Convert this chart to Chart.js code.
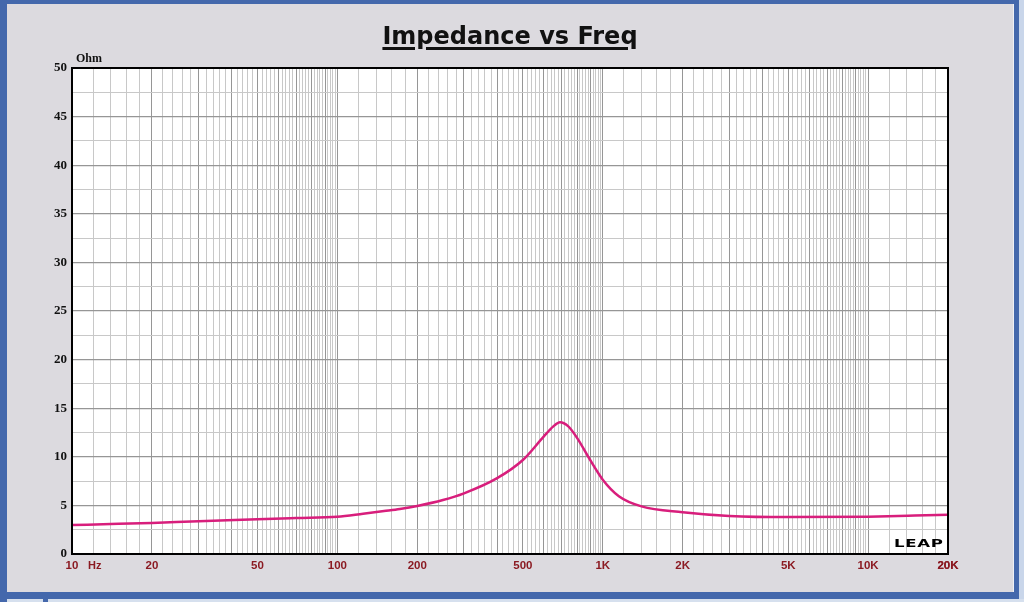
<!DOCTYPE html>
<html>
<head>
<meta charset="utf-8">
<script src="https://cdn.jsdelivr.net/npm/chart.js@4/dist/chart.umd.min.js"></script>
<style>
  html, body { margin: 0; padding: 0; }
  body { width: 1024px; height: 602px; position: relative; overflow: hidden; background: #4468AC; }
  #panel { position: absolute; left: 7px; top: 4px; width: 1007px; height: 588px; background: #DCDADF; box-shadow: inset -1px 0 0 #EEF0F6; }
  #edgeR { position: absolute; left: 1019px; top: 0; width: 5px; height: 602px; background: #C9D6EA; }
  #strip { position: absolute; left: 7px; top: 599px; width: 1017px; height: 3px; background: #D6E0EE; }
  #stripBlue { position: absolute; left: 43px; top: 598px; width: 5px; height: 4px; background: #4468AC; }
  #wrap { position: absolute; left: 0; top: 0; width: 1024px; height: 602px; }
  .lbl { position: absolute; white-space: nowrap; }
  #title { left: 0; width: 1020px; top: 24px; text-align: center; font: bold 24px "DejaVu Sans", Verdana, sans-serif; line-height: 24px; color: #111;
           text-decoration: underline; text-decoration-thickness: 3px; text-underline-offset: 3px; }
  #ohm { left: 76px; top: 52px; font: bold 12px "Liberation Serif", "Times New Roman", serif; line-height: 12px; color: #111; }
  #hz { left: 88px; top: 559px; font: bold 11px "Liberation Sans", Arial, sans-serif; line-height: 12px; color: #8B1A22; }
  #leap { left: 894px; top: 538px; font: bold 12px "DejaVu Sans", "Liberation Sans", sans-serif; line-height: 12px; color: #000;
          transform: scale(1.38, 0.8); transform-origin: left center; letter-spacing: 0.5px; }
</style>
</head>
<body>
<div id="panel"></div>
<div id="edgeR"></div>
<div id="strip"></div>
<div id="stripBlue"></div>
<div id="wrap"><canvas id="c"></canvas></div>
<div class="lbl" id="title">Impedance vs Freq</div>
<div class="lbl" id="ohm">Ohm</div>
<div class="lbl" id="hz">Hz</div>
<div class="lbl" id="leap">LEAP</div>
<script>
// ---- data ----
const freqs = [10, 15, 20, 30, 50, 70, 100, 125, 150, 172, 200, 250, 300, 400, 500, 600, 650, 690, 740, 800, 900, 1000, 1150, 1400, 2000, 3000, 5000, 10000, 15000, 20000];
const ohms  = [2.98, 3.1, 3.2, 3.38, 3.57, 3.7, 3.84, 4.15, 4.42, 4.63, 4.94, 5.55, 6.24, 7.8, 9.67, 12.1, 13.1, 13.55, 13.15, 11.95, 9.6, 7.65, 5.95, 4.9, 4.3, 3.92, 3.8, 3.84, 3.95, 4.05];

// x tick labels
const xLabelValues = [10, 20, 50, 100, 200, 500, 1000, 2000, 5000, 10000, 20000];
const xLabelTexts  = ['10', '20', '50', '100', '200', '500', '1K', '2K', '5K', '10K', '20K'];
// y tick labels
const yLabelValues = [0, 5, 10, 15, 20, 25, 30, 35, 40, 45, 50];
const yMinorValues = [2.5, 7.5, 12.5, 17.5, 22.5, 27.5, 32.5, 37.5, 42.5, 47.5];
// x grid: per-decade subdivisions (mantissas)
const decades = [10, 100, 1000, 10000];
const mantissas = [1, 1.2, 1.4, 1.6, 1.8, 2, 2.2, 2.4, 2.6, 2.8, 3, 3.2, 3.4, 3.6, 3.8, 4, 4.2, 4.4, 4.6, 4.8, 5, 5.2, 5.4, 5.6, 5.8, 6, 6.2, 6.4, 6.6, 6.8, 7, 7.2, 7.4, 7.6, 7.8, 8, 8.2, 8.4, 8.6, 8.8, 9, 9.2, 9.4, 9.6, 9.8];

const xGrid = [];
decades.forEach(d => mantissas.forEach(m => { const v = Math.round(m * d * 1000) / 1000; if (v <= 20000) xGrid.push(v); }));
xGrid.push(20000);
const yGrid = yLabelValues.concat(yMinorValues).sort((a, b) => a - b);

function isMajorX(v) {
  const d = Math.pow(10, Math.floor(Math.log10(v) + 1e-9));
  const m = v / d;
  return Math.abs(m - Math.round(m)) < 1e-6;
}

const plotBg = {
  id: 'plotBg',
  beforeDraw(chart) {
    const { ctx, chartArea: a } = chart;
    ctx.save();
    ctx.fillStyle = '#FFFFFF';
    ctx.fillRect(a.left, a.top, a.right - a.left, a.bottom - a.top);
    ctx.restore();
  },
  afterDraw(chart) {
    const { ctx, chartArea: a } = chart;
    ctx.save();
    ctx.strokeStyle = '#000000';
    ctx.lineWidth = 2;
    ctx.strokeRect(a.left, a.top, a.right - a.left, a.bottom - a.top);
    ctx.restore();
  }
};

new Chart(document.getElementById('c'), {
  type: 'line',
  data: {
    datasets: [{
      data: freqs.map((f, i) => ({ x: f, y: ohms[i] })),
      borderColor: '#D81E7C',
      borderWidth: 2.5,
      pointRadius: 0,
      fill: false,
      cubicInterpolationMode: 'monotone'
    }]
  },
  plugins: [plotBg],
  options: {
    responsive: true,
    maintainAspectRatio: false,
    animation: false,
    layout: { padding: { left: 10, top: 68, right: 76, bottom: 18 } },
    plugins: { legend: { display: false }, title: { display: false }, tooltip: { enabled: false } },
    scales: {
      x: {
        type: 'logarithmic',
        min: 10, max: 20000,
        afterBuildTicks: s => { s.ticks = xGrid.map(v => ({ value: v })); },
        afterFit: s => { s.height = 30; },
        border: { display: false },
        grid: {
          drawTicks: false,
          lineWidth: 1,
          color: c => isMajorX(c.tick.value) ? '#969696' : '#C8C8C8'
        },
        ticks: {
          autoSkip: false, maxRotation: 0, minRotation: 0, padding: 5,
          color: '#8B1A22',
          font: { family: '"Liberation Sans", Arial, sans-serif', size: 11.5, weight: 'bold' },
          callback: function (v) {
            const i = xLabelValues.findIndex(x => Math.abs(x - v) < 1e-6);
            return i >= 0 ? xLabelTexts[i] : '';
          }
        }
      },
      y: {
        type: 'linear',
        min: 0, max: 50,
        afterBuildTicks: s => { s.ticks = yGrid.map(v => ({ value: v })); },
        afterFit: s => { s.width = 62; },
        border: { display: false },
        grid: {
          drawTicks: false,
          lineWidth: c => (c.tick.value % 5 === 0) ? 1.3 : 1,
          color: c => (c.tick.value % 5 === 0) ? '#969696' : '#C8C8C8'
        },
        ticks: {
          autoSkip: false, padding: 5,
          color: '#111111',
          font: { family: '"Liberation Serif", "Times New Roman", serif', size: 13, weight: 'bold' },
          callback: function (v) { return yLabelValues.includes(v) ? String(v) : ''; }
        }
      }
    }
  }
});
</script>
</body>
</html>
